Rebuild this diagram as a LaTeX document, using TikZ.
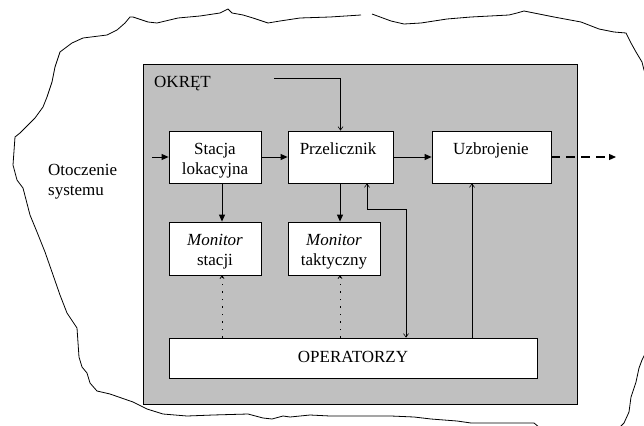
\documentclass[tikz,border=0pt]{standalone}
\usepackage{fontspec}
\setmainfont{Liberation Serif}
\usetikzlibrary{arrows.meta}
\definecolor{shipgray}{RGB}{192,192,192}
\begin{document}
\begin{tikzpicture}[x=1pt,y=-1pt,
  box/.style={draw=black, line width=0.8pt, fill=white, inner sep=0pt},
  lbl/.style={anchor=base, inner sep=0pt, font=\fontsize{17}{20}\selectfont},
  lblw/.style={anchor=base west, inner sep=0pt, font=\fontsize{17}{20}\selectfont},
  bigarrow/.style={line width=0.9pt, -{Triangle[length=7pt,width=6pt]}},
  smallarrow/.style={line width=0.6pt, -{Straight Barb[length=3.5pt,width=5pt]}},
  dotarrow/.style={line width=0.8pt, dash pattern=on 1.5pt off 6pt, -{Straight Barb[length=2.5pt,width=4pt]}},
  dasharrow/.style={line width=1.2pt, dash pattern=on 9pt off 6pt, -{Triangle[length=7pt,width=6pt]}},
  cloudline/.style={line width=0.8pt, black, line join=round}]
\useasboundingbox (0,0) rectangle (644,425);
\begin{scope}
\clip (0,0) rectangle (644,425);
% environment outline
\draw[cloudline] (361,15) -- (330,17) -- (300,18) -- (280,21) -- (268,23) -- (253,18) -- (243,15) -- (232,13) -- (228,9) -- (220,13) -- (200,16) -- (178,18) -- (157,23) -- (148,22) -- (133,17) -- (130,17) -- (125,23) -- (117,30) -- (107,35) -- (83,38) -- (72,43) -- (60,52) -- (55,67) -- (52,82) -- (47,97) -- (43,107) -- (35,118) -- (26,127) -- (20,133) -- (15,137) -- (13,165) -- (17,180) -- (23,188) -- (30,215) -- (37,232) -- (45,252) -- (52,272) -- (60,295) -- (67,313) -- (77,328) -- (79,357) -- (82,367) -- (87,373) -- (90,383) -- (97,391) -- (110,394) -- (133,402) -- (147,409) -- (163,414) -- (187,416) -- (213,415) -- (248,414) -- (263,418) -- (272,419) -- (283,416) -- (290,417) -- (310,415) -- (330,416) -- (391,416) -- (414,417) -- (431,419) -- (457,421) -- (471,423) -- (534,423) -- (545,432) -- (615,432) -- (624,423) -- (629,412) -- (631,397) -- (636,382) -- (639,368) -- (642,360) -- (652,340) -- (652,90) -- (644,70) -- (642,62) -- (636,52) -- (631,43) -- (626,33) -- (614,32) -- (599,29) -- (581,22) -- (554,17) -- (534,13) -- (524,11) -- (517,13) -- (509,15) -- (471,17) -- (447,19) -- (421,23) -- (404,24) -- (391,21) -- (372,14);
\end{scope}

% ship
\node[draw=black, line width=0.6pt, fill=shipgray, minimum width=434pt, minimum height=340pt, inner sep=0pt] (ship) at (360,234) {};
\node[lblw] (tokret) at (154,88) {OKRĘT};

% boxes
\node[box, minimum width=92pt, minimum height=52pt] (stacja) at (215,157) {};
\node[box, minimum width=105pt, minimum height=52pt] (przel) at (340.5,157) {};
\node[box, minimum width=119pt, minimum height=52pt] (uzbr) at (491.5,157) {};
\node[box, minimum width=92pt, minimum height=53pt] (monst) at (215,248.5) {};
\node[box, minimum width=92pt, minimum height=53pt] (montak) at (334,248.5) {};
\node[box, minimum width=368pt, minimum height=40pt] (oper) at (353,358) {};

% texts
\node[lbl] (tst1) at (215,154) {Stacja};
\node[lbl] (tst2) at (215,174) {lokacyjna};
\node[lbl] (tprz) at (338,154) {Przelicznik};
\node[lbl] (tuzb) at (491,154) {Uzbrojenie};
\node[lbl] (tmon1) at (215,245) {\textit{Monitor}};
\node[lbl] (tmon2) at (215,265) {stacji};
\node[lbl] (tmon3) at (334,245) {\textit{Monitor}};
\node[lbl] (tmon4) at (334,265) {taktyczny};
\node[lbl] (toper) at (353,362) {OPERATORZY};
\node[lblw] (tot1) at (48,175) {Otoczenie};
\node[lblw] (tot2) at (48,195) {systemu};

% helper coordinates
\coordinate (inp) at (152,157);
\coordinate (topin) at (274,78);
\coordinate (xa) at (222,0);
\coordinate (xb) at (340,0);
\coordinate (xc) at (367,0);
\coordinate (bend) at (406,209);
\coordinate (xe) at (472,0);
\coordinate (outp) at (616,157);

% connectors
\draw[bigarrow] (inp) -- (stacja.west);
\draw[bigarrow] (stacja.east) -- (przel.west);
\draw[bigarrow] (przel.east) -- (uzbr.west);
\draw[dasharrow] (uzbr.east) -- (outp);
\draw[smallarrow] (topin) -| (przel.north);
\draw[bigarrow] (stacja.south -| xa) -- (monst.north -| xa);
\draw[bigarrow] (przel.south -| xb) -- (montak.north -| xb);
\draw[line width=0.6pt, {Straight Barb[length=3.5pt,width=5pt]}-{Straight Barb[length=3.5pt,width=5pt]}] (przel.south -| xc) |- (bend) -- (oper.north -| bend);
\draw[smallarrow] (oper.north -| xe) -- (uzbr.south -| xe);
\draw[dotarrow] (oper.north -| xa) -- (monst.south -| xa);
\draw[dotarrow] (oper.north -| xb) -- (montak.south -| xb);
\end{tikzpicture}
\end{document}
